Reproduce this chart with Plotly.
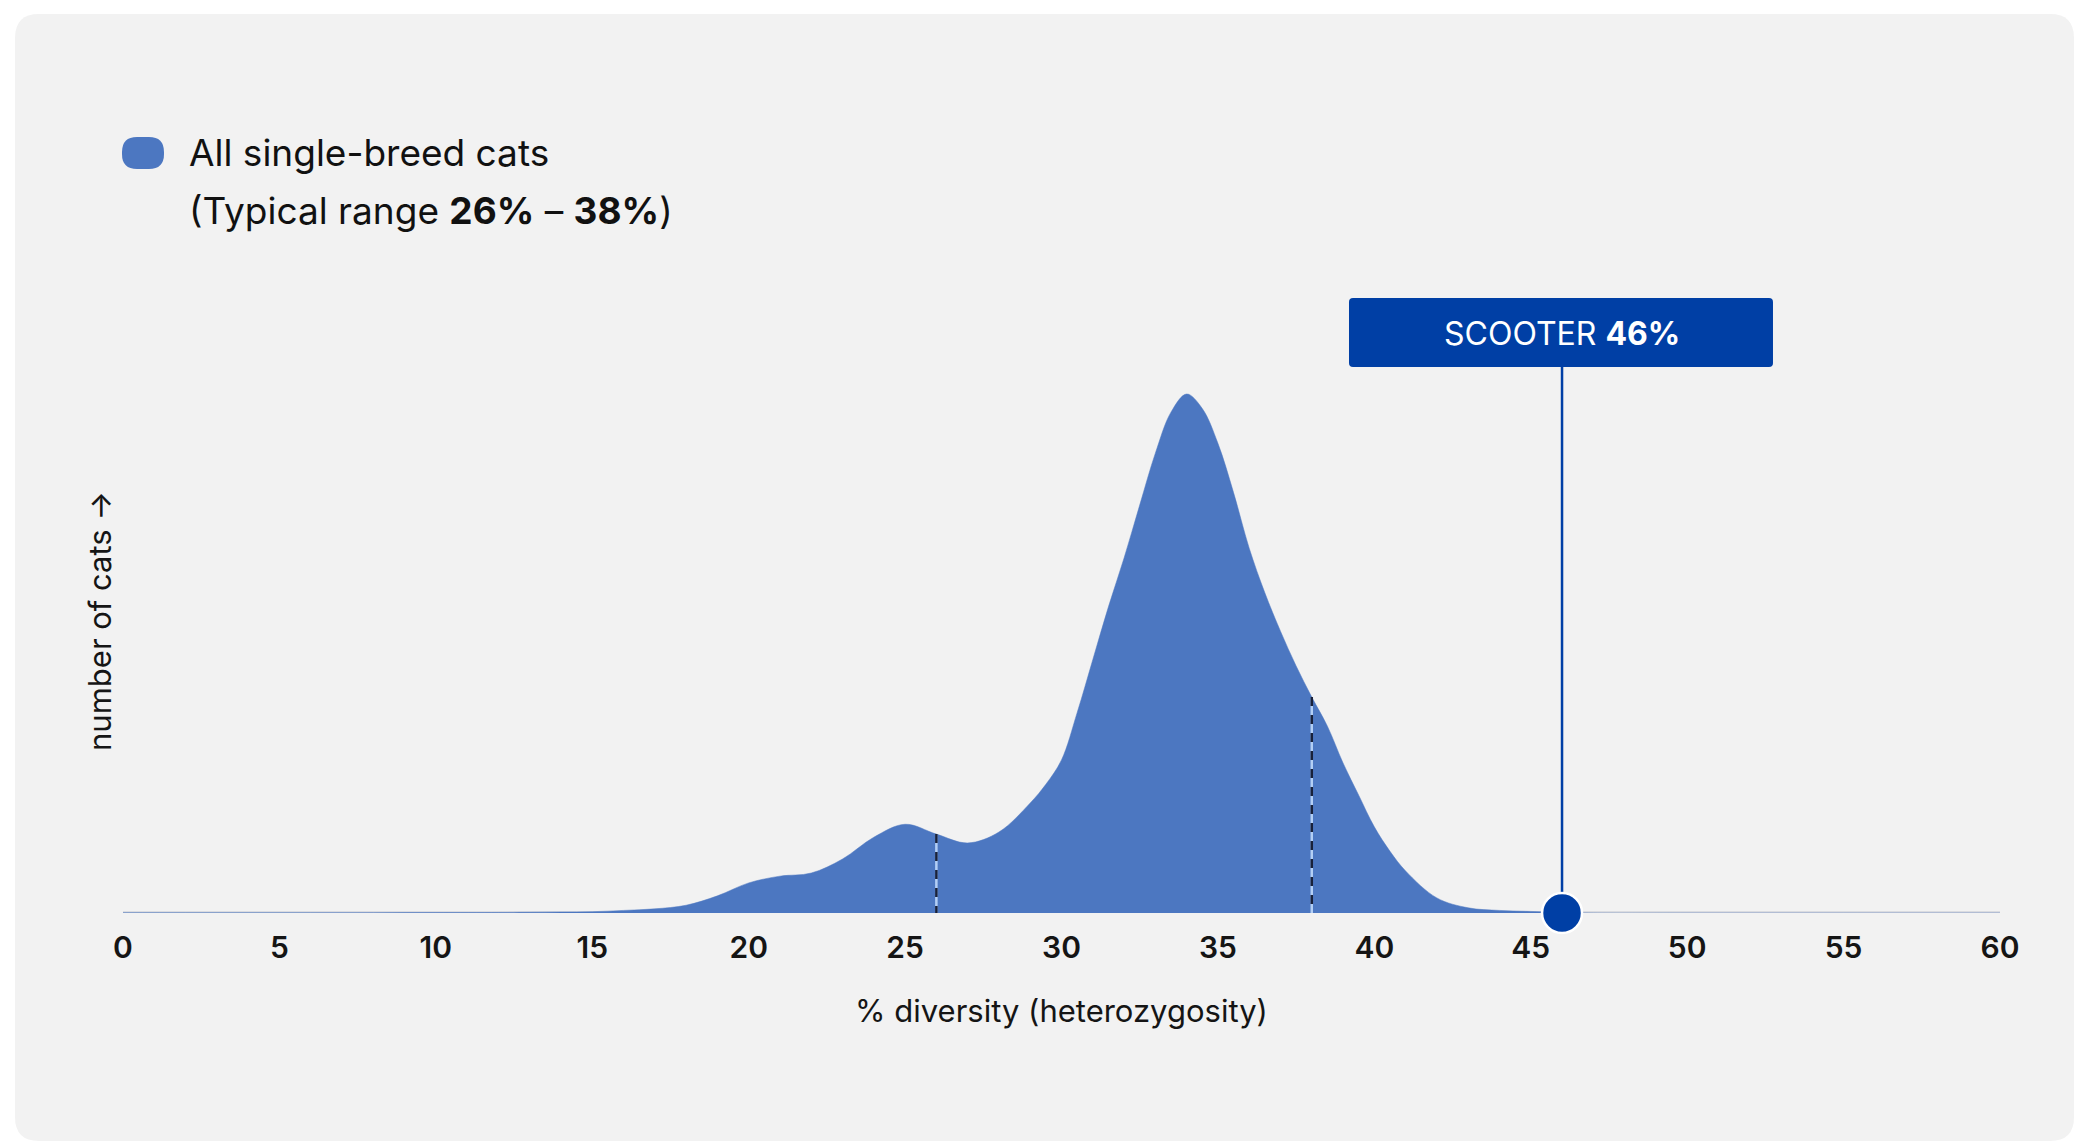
import plotly.graph_objects as go

# ---------------- data ----------------
diversity_pct = [0, 2, 4, 6, 8, 10, 12, 13, 14, 15, 16, 17, 18, 19, 20, 21, 22, 23, 24, 25,
                 26, 27, 28, 29, 29.5, 30, 30.5, 31, 31.5, 32, 32.5, 33, 33.5, 34, 34.5,
                 35, 35.5, 36, 36.5, 37, 37.5, 38, 38.5, 39, 39.5, 40, 40.5, 41, 42, 43,
                 44, 45, 46, 47, 50, 55, 60]
cat_density = [0.05, 0.05, 0.05, 0.05, 0.06, 0.08, 0.1, 0.15, 0.2, 0.25, 0.5, 0.8, 1.5, 3.3,
               5.8, 7.1, 7.7, 10.4, 14.6, 17.1, 15.2, 13.5, 15.6, 21.2, 24.8, 29.5, 38.6,
               48.8, 59.0, 68.4, 78.6, 88.6, 96.5, 100.0, 97.2, 90.5, 81.0, 70.3, 61.7,
               54.3, 47.6, 41.6, 36.0, 28.9, 22.7, 16.6, 11.9, 8.1, 2.9, 1.0, 0.5, 0.3,
               0.15, 0.0, 0.0, 0.0, 0.0]
typical_range = [26, 38]
scooter_value = 46
x_ticks = [0, 5, 10, 15, 20, 25, 30, 35, 40, 45, 50, 55, 60]
legend_label = "All single-breed cats"
x_title = "% diversity (heterozygosity)"
y_title = "number of cats \u2192"

# ---------------- styling ----------------
W, H = 2078, 1141
FONT = "Inter"
FILL = "#4c77c1"
DARK_BLUE = "#003fa5"
CARD = "#f2f2f2"

X0_PX, X1_PX = 123, 2000      # pixel span of x-axis 0..60
AXIS_Y_PX = 913                # baseline
TOP_PX = 329                   # top of y domain
PEAK_PX = 394                  # where value 100 lands


def px(x):
    return x / W


def py(y):
    return 1 - y / H


def rrect(x0, y0, x1, y1, r):
    def P(x, y):
        return f"{px(x):.5f},{py(y):.5f}"
    return (f"M {P(x0 + r, y0)} L {P(x1 - r, y0)} Q {P(x1, y0)} {P(x1, y0 + r)} "
            f"L {P(x1, y1 - r)} Q {P(x1, y1)} {P(x1 - r, y1)} "
            f"L {P(x0 + r, y1)} Q {P(x0, y1)} {P(x0, y1 - r)} "
            f"L {P(x0, y0 + r)} Q {P(x0, y0)} {P(x0 + r, y0)} Z")


y_max = 100 * (AXIS_Y_PX - TOP_PX) / (AXIS_Y_PX - PEAK_PX)

fig = go.Figure()

# baseline (grey axis line)
fig.add_trace(go.Scatter(x=[x_ticks[0], x_ticks[-1]], y=[0, 0], mode="lines",
                         line=dict(color="#d3d5da", width=3.5), hoverinfo="skip",
                         showlegend=False, cliponaxis=False))

# density area
fig.add_trace(go.Scatter(x=diversity_pct, y=cat_density, mode="lines",
                         line=dict(color=FILL, width=0.5, shape="spline", smoothing=1.0),
                         fill="tozeroy", fillcolor=FILL, hoverinfo="skip",
                         showlegend=False, name=legend_label))

# typical-range markers (light line under dark dashes)
for v in typical_range:
    h = cat_density[diversity_pct.index(v)]
    fig.add_trace(go.Scatter(x=[v, v], y=[h, 0], mode="lines",
                             line=dict(color="#b3cff5", width=2.5), hoverinfo="skip",
                             showlegend=False))
    fig.add_trace(go.Scatter(x=[v, v], y=[h, 0], mode="lines",
                             line=dict(color="#18213a", width=2.5, dash="9px,9px"),
                             hoverinfo="skip", showlegend=False))

# Scooter dot
fig.add_trace(go.Scatter(x=[scooter_value], y=[0], mode="markers",
                         marker=dict(size=40, color=DARK_BLUE,
                                     line=dict(color="white", width=2.5)),
                         hoverinfo="skip", showlegend=False, cliponaxis=False))

shapes = [
    # card background
    dict(type="path", path=rrect(15, 14, 2074, 1141, 24), xref="paper", yref="paper",
         fillcolor=CARD, line=dict(width=0), layer="below"),
    # legend pill
    dict(type="path", path=rrect(122, 137, 164, 169, 15), xref="paper", yref="paper",
         fillcolor=FILL, line=dict(width=0), layer="above"),
    # scooter label box
    dict(type="path", path=rrect(1349, 298, 1773, 367, 4), xref="paper", yref="paper",
         fillcolor=DARK_BLUE, line=dict(width=0), layer="above"),
    # scooter stem
    dict(type="line", xref="x", yref="paper", x0=scooter_value, x1=scooter_value,
         y0=py(367), y1=py(AXIS_Y_PX - 18), line=dict(color=DARK_BLUE, width=2.5),
         layer="below"),
]

annotations = [
    dict(text=legend_label, xref="paper", yref="paper", x=px(187), y=py(152),
         xanchor="left", yanchor="middle", showarrow=False,
         font=dict(family=FONT, size=37, color="#111111")),
    dict(text=f"(Typical range <b>{typical_range[0]}%</b> \u2013 <b>{typical_range[1]}%</b>)",
         xref="paper", yref="paper", x=px(187), y=py(210),
         xanchor="left", yanchor="middle", showarrow=False,
         font=dict(family=FONT, size=37, color="#111111")),
    dict(text=f"SCOOTER <b>{scooter_value}%</b>", xref="x", yref="paper",
         x=scooter_value, y=py(333), xanchor="center", yanchor="middle", showarrow=False,
         font=dict(family=FONT, size=32, color="white")),
]

fig.update_layout(
    width=W, height=H,
    margin=dict(l=0, r=0, t=0, b=0, autoexpand=False),
    paper_bgcolor="white", plot_bgcolor="rgba(0,0,0,0)",
    shapes=shapes, annotations=annotations, showlegend=False,
    xaxis=dict(domain=[px(X0_PX), px(X1_PX)], range=[x_ticks[0], x_ticks[-1]],
               automargin=False,
               tickmode="array", tickvals=x_ticks, ticktext=[str(t) for t in x_ticks],
               showgrid=False, zeroline=False, showline=False,
               ticks="outside", ticklen=8, tickcolor="rgba(0,0,0,0)",
               tickfont=dict(family=FONT, size=30, color="#151515", weight=600),
               title=dict(text=x_title, standoff=36,
                          font=dict(family=FONT, size=31, color="#151515"))),
    yaxis=dict(domain=[py(AXIS_Y_PX), py(TOP_PX)], range=[0, y_max],
               automargin=False,
               showgrid=False, zeroline=False, showline=False, showticklabels=False,
               ticks="",
               title=dict(text=y_title, standoff=1,
                          font=dict(family=FONT, size=31, color="#151515"))),
)

fig.write_html("out.html", config={"displayModeBar": False},
               post_script="document.body.style.margin='0';document.body.style.overflow='hidden';")
